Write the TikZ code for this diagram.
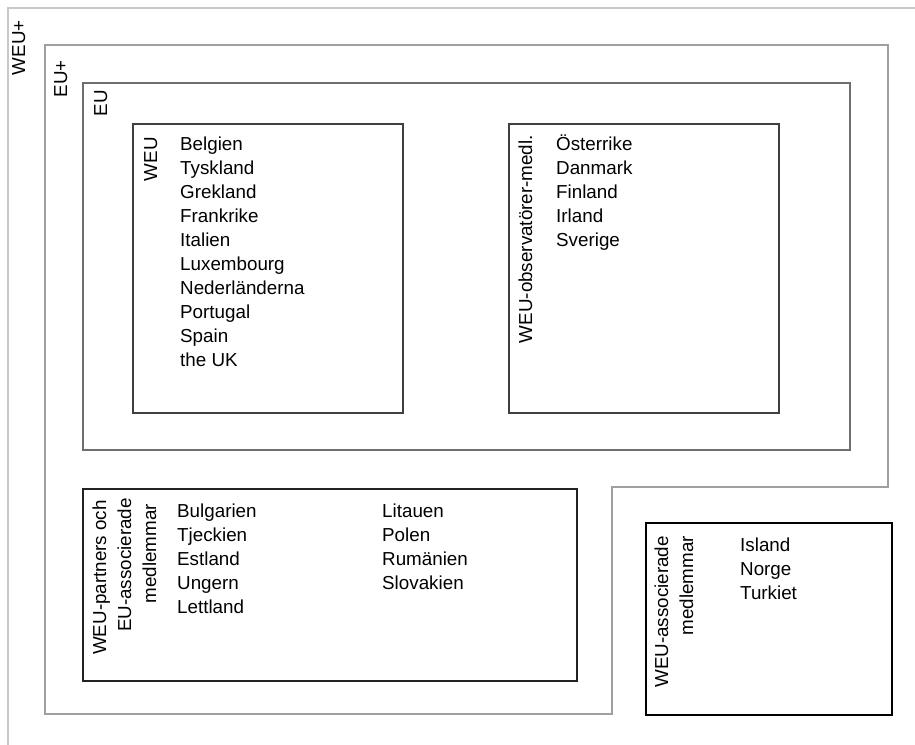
\documentclass[tikz,border=0pt]{standalone}
\usepackage{fontspec}
\setmainfont{Liberation Sans}
\definecolor{cWEUplus}{HTML}{C8C8C8}
\definecolor{cEUplus}{HTML}{A0A0A0}
\definecolor{cEU}{HTML}{6E6E6E}
\definecolor{cWEU}{HTML}{404040}
\definecolor{cPart}{HTML}{222222}
\definecolor{cAssoc}{HTML}{000000}
\begin{document}
\begin{tikzpicture}[x=1pt,y=-1pt,
  frame/.style={line width=2pt},
  lbl/.style={rotate=90,anchor=base east,inner sep=0pt,font=\fontsize{18.8}{24}\selectfont},
  item/.style={anchor=base west,inner sep=0pt,font=\fontsize{18.8}{24}\selectfont}]
\useasboundingbox (0,0) rectangle (915,744);
% frames
\draw[frame,cWEUplus] (8,750) -- (8,8) -- (920,8);
\draw[frame,cEUplus] (45,45) -- (888,45) -- (888,487) -- (612,487) -- (612,714) -- (45,714) -- cycle;
\draw[frame,cEU] (83,83) rectangle (850,450);
\draw[frame,cWEU] (133,124) rectangle (403,413);
\draw[frame,cWEU] (509,124) rectangle (779,413);
\draw[frame,cPart] (83,489) rectangle (577,681);
\draw[frame,cAssoc] (646,523) rectangle (892,715);
% labels
\node[lbl] (lWEUplus) at (25,20) {WEU+};
\node[lbl] (lEUplus) at (67,60) {EU+};
\node[lbl] (lEU) at (107,90) {EU};
\node[lbl] (lWEU) at (157,137) {WEU};
\node[lbl] (lObs) at (532,135) {WEU-observatörer-medl.};
\node[lbl] (lPart1) at (106,500) {WEU-partners och};
\node[lbl] (lPart2) at (131,498) {EU-associerade};
\node[lbl] (lPart3) at (156,504) {medlemmar};
\node[lbl] (lAss1) at (668,536) {WEU-associerade};
\node[lbl] (lAss2) at (693,536) {medlemmar};
% lists
\foreach \t [count=\i] in {Belgien,Tyskland,Grekland,Frankrike,Italien,Luxembourg,Nederländerna,Portugal,Spain,the UK}
  \node[item] (weu\i) at (180,{150+24*(\i-1)}) {\t};
\foreach \t [count=\i] in {Österrike,Danmark,Finland,Irland,Sverige}
  \node[item] (obs\i) at (556,{150+24*(\i-1)}) {\t};
\foreach \t [count=\i] in {Bulgarien,Tjeckien,Estland,Ungern,Lettland}
  \node[item] (pa\i) at (177,{517+24*(\i-1)}) {\t};
\foreach \t [count=\i] in {Litauen,Polen,Rumänien,Slovakien}
  \node[item] (pb\i) at (382,{517+24*(\i-1)}) {\t};
\foreach \t [count=\i] in {Island,Norge,Turkiet}
  \node[item] (as\i) at (740,{551+24*(\i-1)}) {\t};
\end{tikzpicture}
\end{document}
